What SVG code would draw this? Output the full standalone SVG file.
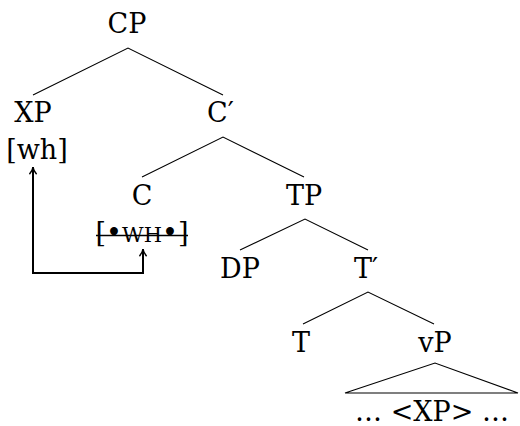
<svg xmlns="http://www.w3.org/2000/svg" width="520" height="426" viewBox="0 0 520 426">
<style>
text{font-family:"DejaVu Serif","Liberation Serif",serif;font-size:27px;fill:#000}
.m{text-anchor:middle}
.e{stroke:#000;stroke-width:1.1;fill:none}
.mv{stroke:#000;stroke-width:2;fill:none}
</style>
<defs>
<marker id="ah" viewBox="0 0 10 10" refX="9" refY="5" markerWidth="9" markerHeight="9" markerUnits="userSpaceOnUse" orient="auto-start-reverse">
<path d="M1,1 Q5,4.5 9,5 Q5,5.5 1,9" fill="none" stroke="#000" stroke-width="1.6"/>
</marker>
</defs>
<rect width="520" height="426" fill="#fff"/>
<g id="connectors">
<path class="e" d="M33,95 L128,48 L223,95"/>
<path class="e" d="M142,177 L223,137 L304,177"/>
<path class="e" d="M240,250 L305,219 L368,250"/>
<path class="e" d="M303,324 L368,292 L434,324"/>
<path class="mv" d="M33,167 V273 H143 V249" marker-start="url(#ah)" marker-end="url(#ah)"/>
</g>
<g id="CP"><text class="m" x="127" y="33">CP</text></g>
<g id="XP"><text class="m" x="33" y="122">XP</text></g>
<g id="wh"><text class="m" x="37" y="159">[wh]</text></g>
<g id="Cbar"><text x="207" y="122">C<tspan>′</tspan></text></g>
<g id="C"><text class="m" x="142" y="205">C</text></g>
<g id="WH"><text class="m" x="142" y="242">[•<tspan font-size="21">WH</tspan>•]</text><line x1="96" y1="235.5" x2="188" y2="235.5" stroke="#000" stroke-width="1.5"/></g>
<g id="TP"><text class="m" x="304" y="205">TP</text></g>
<g id="DP"><text class="m" x="240" y="278">DP</text></g>
<g id="Tbar"><text x="354" y="278">T<tspan>′</tspan></text></g>
<g id="T"><text class="m" x="301" y="352">T</text></g>
<g id="vP"><text class="m" x="435" y="352">vP</text>
<path class="e" d="M345,393 L435,363 L518,393 Z"/></g>
<g id="XPtrace"><text class="m" x="432" y="421">… &lt;XP&gt; …</text></g>
</svg>
